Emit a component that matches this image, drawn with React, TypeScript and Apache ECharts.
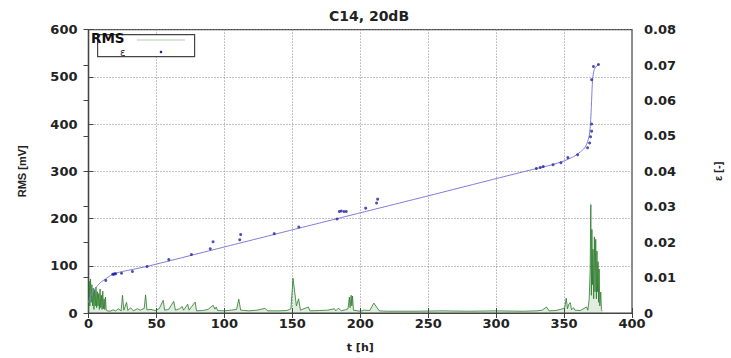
import React, { useEffect, useRef } from "react";
import * as echarts from "echarts";

const chartTitle = "C14, 20dB";

// fitted RMS curve [t (h), RMS (mV)]
const rmsFit: number[][] = [
  [0, 22], [1, 32], [3, 44], [6, 56], [9, 65], [12, 71], [15, 77], [18, 82], [21, 85],
  [25, 88], [32, 92], [45, 100], [100, 139.8], [150, 176], [200, 212], [250, 248],
  [300, 284.5], [327, 304], [340, 313], [350, 322], [357, 331], [362, 341], [365, 349],
  [367, 360], [368.5, 375], [369.3, 395], [369.9, 425], [370.4, 460], [370.9, 490],
  [371.6, 508], [372.6, 518], [374, 523], [375.5, 526],
];

// measured points [t, RMS]
const rmsPoints: number[][] = [
  [12.7, 69], [17.8, 82], [18.5, 82], [19.2, 83], [20, 83], [24.3, 84], [32.3, 88],
  [43.1, 98.6], [59.1, 113], [75.8, 124], [89.6, 136], [91.7, 151], [111.3, 155],
  [112, 166], [136.7, 168], [154.8, 182], [183, 199], [184.6, 215], [186, 216],
  [188, 215], [189.7, 215], [204, 222], [212, 233], [212.8, 241],
  [329.6, 306], [332.5, 308], [334.7, 310], [341.9, 314], [347.7, 318], [352.8, 329],
  [360, 335], [367.3, 350], [368.8, 360], [369.5, 373], [370.3, 385], [370.3, 400],
  [370.3, 494], [371.6, 522], [375.3, 526],
];

// strain signal [t, ε]
const epsData: number[][] = [
  [0, 0.0005], [0.5, 0.009], [1, 0.002], [1.5, 0.0096], [2, 0.003], [2.5, 0.008], [3, 0.002],
  [3.5, 0.007], [4, 0.001], [4.5, 0.0065], [5, 0.002], [5.5, 0.0073], [6, 0.0015], [6.5, 0.006],
  [7, 0.002], [7.5, 0.0055], [8, 0.001], [8.5, 0.0068], [9, 0.0015], [9.5, 0.005], [10, 0.001],
  [10.5, 0.0062], [11, 0.0012], [11.5, 0.004], [12, 0.001], [12.5, 0.0045], [13, 0.0008],
  [14, 0.0006], [16, 0.0005], [18, 0.0009], [20, 0.0006], [22, 0.0012], [24, 0.0006],
  [25, 0.005], [26, 0.0008], [28, 0.003], [29, 0.0007], [31, 0.0015], [33, 0.0006],
  [36, 0.0012], [38, 0.0008], [41, 0.0013], [42, 0.0051], [43, 0.0009], [46, 0.001],
  [49, 0.0007], [52, 0.0012], [55, 0.0036], [56, 0.0008], [59, 0.001], [62.7, 0.0033],
  [64, 0.0008], [67, 0.0012], [69, 0.0018], [70, 0.0008], [73, 0.0025], [74, 0.0008],
  [78.5, 0.0031], [79.5, 0.0006], [84, 0.0007], [88, 0.001], [91.7, 0.0022], [93, 0.0011],
  [94, 0.0017], [95, 0.0007], [100, 0.0006], [105, 0.0008], [109, 0.001], [110.6, 0.0039],
  [112, 0.0008], [118, 0.0006], [124, 0.0008], [129.8, 0.0013], [132, 0.0006], [140, 0.0006],
  [146, 0.0007], [149, 0.0012], [150.5, 0.0098], [151.5, 0.0068], [153, 0.002], [154.6, 0.004],
  [156, 0.0008], [161.8, 0.0017], [163, 0.0006], [170, 0.0007], [176, 0.0008], [181, 0.0012],
  [182, 0.0006], [184, 0.0014], [186, 0.0006], [189, 0.0009], [191, 0.0012], [192, 0.0045],
  [192.5, 0.0015], [193.3, 0.005], [193.8, 0.002], [194.3, 0.0048], [195, 0.0008], [200, 0.0005],
  [203, 0.0008], [207, 0.0007], [210, 0.0028], [214, 0.0006], [220, 0.0005], [240, 0.0005],
  [260, 0.0006], [280, 0.0005], [300, 0.0006], [320, 0.0005], [330, 0.0006], [334, 0.0008],
  [337, 0.0017], [339, 0.0006], [344, 0.0007], [349, 0.0012], [350.5, 0.0015], [351.6, 0.0042],
  [352.5, 0.0012], [353.5, 0.0025], [354.6, 0.0029], [355.5, 0.0009], [357, 0.0015],
  [358, 0.0008], [362, 0.0007], [366.5, 0.0017], [367.5, 0.0008], [368.5, 0.004],
  [369.2, 0.012], [369.7, 0.0306], [370.1, 0.005], [370.5, 0.0236], [370.9, 0.008],
  [371.3, 0.018], [371.8, 0.004], [372.3, 0.0215], [372.8, 0.006], [373.3, 0.0208],
  [373.8, 0.004], [374.2, 0.0175], [374.6, 0.006], [375, 0.0145], [375.4, 0.003],
  [375.8, 0.0124], [376.3, 0.002], [377, 0.0059], [377.5, 0.001], [378, 0.0005],
];

const WIDE = "'DejaVu Sans', Verdana, sans-serif";
const NARROW = "'Liberation Sans', Arial, Helvetica, sans-serif";
const AXIS_COLOR = "#444";

export default function App() {
  const ref = useRef<HTMLDivElement>(null);
  useEffect(() => {
    const chart = echarts.init(ref.current!, null, { renderer: "svg" });
    const labelStyle = { fontFamily: WIDE, fontWeight: "bold", fontSize: 13, color: "#222" };
    const vNameStyle = { fontFamily: NARROW, fontWeight: "bold", fontSize: 11, color: "#222" };
    chart.setOption({
      animation: false,
      backgroundColor: "#fff",
      title: {
        text: chartTitle,
        left: 364,
        textAlign: "center",
        top: 4,
        textStyle: { fontFamily: WIDE, fontWeight: "bold", fontSize: 14, color: "#222" },
      },
      grid: {
        left: 88.5, right: 91, top: 29.6, bottom: 42,
        show: true, borderColor: AXIS_COLOR, borderWidth: 1.2, backgroundColor: "transparent",
      },
      xAxis: [
        {
          type: "value", min: 0, max: 400, interval: 50,
          name: "t [h]", nameLocation: "middle", nameGap: 29,
          nameTextStyle: { fontFamily: WIDE, fontWeight: "bold", fontSize: 11, color: "#222" },
          axisLine: { show: true, lineStyle: { color: AXIS_COLOR, width: 1.2 } },
          axisTick: { show: true, inside: true, length: 5, lineStyle: { color: AXIS_COLOR } },
          axisLabel: { ...labelStyle, margin: 4 },
          splitLine: { show: true, lineStyle: { color: "#888", type: [1, 2], width: 1 } },
        },
        {
          type: "value", min: 0, max: 400, interval: 50, position: "top",
          axisLine: { show: false },
          axisTick: { show: true, inside: true, length: 5, lineStyle: { color: AXIS_COLOR } },
          axisLabel: { show: false },
          splitLine: { show: false },
        },
      ],
      yAxis: [
        {
          type: "value", min: 0, max: 600, interval: 100, position: "left",
          name: "RMS [mV]", nameLocation: "middle", nameGap: 61, nameRotate: 90,
          nameTextStyle: vNameStyle,
          axisLine: { show: true, lineStyle: { color: AXIS_COLOR, width: 1.2 } },
          axisTick: { show: true, inside: true, length: 5, lineStyle: { color: AXIS_COLOR } },
          axisLabel: { ...labelStyle, margin: 11 },
          splitLine: { show: true, lineStyle: { color: "#888", type: [1, 2], width: 1 } },
        },
        {
          type: "value", min: 0, max: 0.08, interval: 0.01, position: "right",
          name: "ε [-]", nameLocation: "middle", nameGap: 80, nameRotate: 90,
          nameTextStyle: vNameStyle,
          axisLine: { show: true, lineStyle: { color: AXIS_COLOR, width: 1.2 } },
          axisTick: { show: true, inside: true, length: 5, lineStyle: { color: AXIS_COLOR } },
          axisLabel: {
            ...labelStyle, margin: 12,
            formatter: (v: number) => (v === 0 ? "0" : v.toFixed(2)),
          },
          splitLine: { show: false },
        },
      ],
      series: [
        {
          name: "ε(t)", type: "line", xAxisIndex: 0, yAxisIndex: 1, data: epsData,
          showSymbol: false, symbol: "none",
          lineStyle: { color: "#2a7a2a", width: 0.8 },
          areaStyle: { color: "rgba(20,110,20,0.18)" },
          z: 2,
        },
        {
          name: "RMS", type: "line", xAxisIndex: 0, yAxisIndex: 0, data: rmsFit,
          showSymbol: false, symbol: "none", smooth: 0.2,
          lineStyle: { color: "#7c7cd8", width: 1 },
          z: 3,
        },
        {
          name: "ε", type: "scatter", xAxisIndex: 0, yAxisIndex: 0, data: rmsPoints,
          symbol: "circle", symbolSize: 3,
          itemStyle: { color: "#2323a3" },
          z: 4,
        },
      ],
      graphic: [
        {
          type: "rect", left: 97, top: 34, shape: { width: 97, height: 22 },
          style: { fill: "#fff", stroke: AXIS_COLOR, lineWidth: 1.2 }, z: 100,
        },
        {
          type: "text", x: 91, y: 45,
          style: { text: "RMS", font: `bold 13.5px ${WIDE}`, fill: "#111", textVerticalAlign: "bottom" }, z: 101,
        },
        {
          type: "line", shape: { x1: 137, y1: 40, x2: 185, y2: 40 },
          style: { stroke: "#b8c8b8", lineWidth: 1.2 }, z: 101,
        },
        {
          type: "text", x: 120, y: 47,
          style: { text: "ε", font: `10px ${WIDE}`, fill: "#222", textVerticalAlign: "top" }, z: 101,
        },
        {
          type: "circle", shape: { cx: 161, cy: 52, r: 1.3 },
          style: { fill: "#2323a3" }, z: 101,
        },
      ],
    });
    return () => chart.dispose();
  }, []);
  return <div ref={ref} style={{ position: "fixed", left: 0, top: 0, width: 731, height: 358 }} />;
}
